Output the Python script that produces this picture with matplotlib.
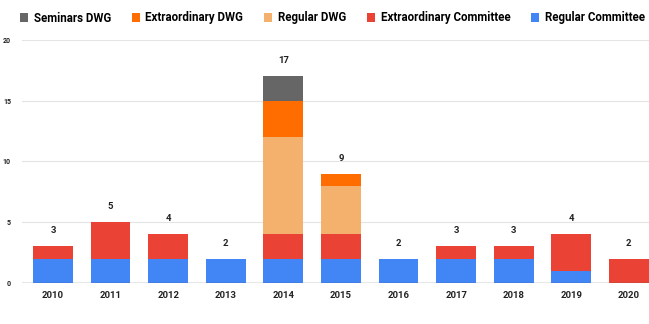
import matplotlib.pyplot as plt
import numpy as np

years = ["2010", "2011", "2012", "2013", "2014", "2015", "2016", "2017", "2018", "2019", "2020"]
regular_committee = [2, 2, 2, 2, 2, 2, 2, 2, 2, 1, 0]
extra_committee = [1, 3, 2, 0, 2, 2, 0, 1, 1, 3, 2]
regular_dwg = [0, 0, 0, 0, 8, 4, 0, 0, 0, 0, 0]
extra_dwg = [0, 0, 0, 0, 3, 1, 0, 0, 0, 0, 0]
seminars_dwg = [0, 0, 0, 0, 2, 0, 0, 0, 0, 0, 0]

series = [
    ("Regular Committee", regular_committee, "#4285f4"),
    ("Extraordinary Committee", extra_committee, "#ea4335"),
    ("Regular DWG", regular_dwg, "#f4b16e"),
    ("Extraordinary DWG", extra_dwg, "#ff6d01"),
    ("Seminars DWG", seminars_dwg, "#666666"),
]

plt.rcParams["font.family"] = ["Roboto", "DejaVu Sans"]

fig = plt.figure(figsize=(6.49, 3.24), dpi=100)
ax = fig.add_axes([0.034, 0.127, 0.966, 0.75])

x = np.arange(len(years))
bottom = np.zeros(len(years))
handles = {}
for name, vals, color in series:
    vals = np.array(vals, dtype=float)
    b = ax.bar(x, vals, width=0.69, bottom=bottom, color=color, zorder=3, label=name)
    handles[name] = b
    bottom += vals

# totals on top
for xi, tot in zip(x, bottom):
    ax.text(xi, tot + 0.9, f"{int(tot)}", ha="center", va="bottom",
            fontsize=6.8, fontweight="bold", color="#222222")

ax.set_xlim(-0.537, 10.35)
ax.set_ylim(0, 20)
ax.set_yticks([0, 5, 10, 15, 20])
ax.set_xticks(x)
ax.set_xticklabels(years, fontsize=6.8, fontweight="bold", color="#222222")
ax.tick_params(axis="y", labelsize=5, length=0, pad=8, labelcolor="#222222")
ax.tick_params(axis="x", length=0, pad=6)
for lbl in ax.get_yticklabels():
    lbl.set_fontweight("bold")
ax.grid(axis="y", color="#e4e4e4", linewidth=0.8, zorder=0)
for s in ax.spines.values():
    s.set_visible(False)
ax.axhline(0, color="#555555", linewidth=0.9, zorder=4)

order = ["Seminars DWG", "Extraordinary DWG", "Regular DWG", "Extraordinary Committee", "Regular Committee"]
fig.legend([handles[n] for n in order], order, loc="center", bbox_to_anchor=(0.512, 1 - 18 / 324),
           ncol=5, frameon=False, handlelength=0.7, handleheight=0.7,
           handletextpad=0.5, columnspacing=1.8, prop={"weight": "bold", "size": 8.3})

fig.savefig("out.png", dpi=100)
